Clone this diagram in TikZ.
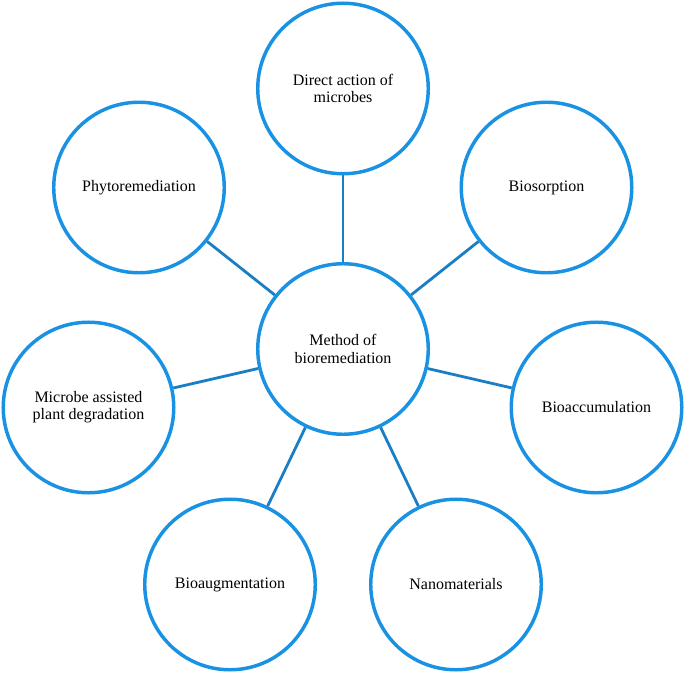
\documentclass[tikz,border=0pt]{standalone}
\usepackage{fontspec}
\setmainfont{Liberation Serif}
\usetikzlibrary{positioning}
\definecolor{ringblue}{HTML}{1A92E4}
\definecolor{linkblue}{HTML}{1A7EC4}
\tikzset{
    ring/.style={circle, draw=ringblue, fill=white, line width=2.6pt, minimum size=127.9pt, inner sep=0pt, align=center, font=\fontsize{12}{13}\selectfont},
    link/.style={draw=linkblue, line width=2.1pt}
}

\begin{document}
\begin{tikzpicture}[x=0.75pt, y=-0.75pt]
    \useasboundingbox (0,0) rectangle (685,673);
    % Centre
    \node (method) [ring] at (343,349) {Method of\\bioremediation};

    % Surrounding methods
    \node (direct_action) [ring] at (343,88.5) {Direct action of\\microbes};
    \node (phyto) [ring] at (139,187.5) {Phytoremediation};
    \node (biosorption) [ring] at (546.5,187.5) {Biosorption};
    \node (microbe_plant) [ring] at (88.5,407.5) {Microbe assisted\\plant degradation};
    \node (bioaccumulation) [ring] at (596.5,407.5) {Bioaccumulation};
    \node (bioaugmentation) [ring] at (230,584.5) {Bioaugmentation};
    \node (nanomaterials) [ring] at (456,584.5) {Nanomaterials};

    % Links from the centre
    \foreach \n in {direct_action, phyto, biosorption, microbe_plant, bioaccumulation, bioaugmentation, nanomaterials}
        \draw [link] (method) -- (\n);
\end{tikzpicture}
\end{document}
